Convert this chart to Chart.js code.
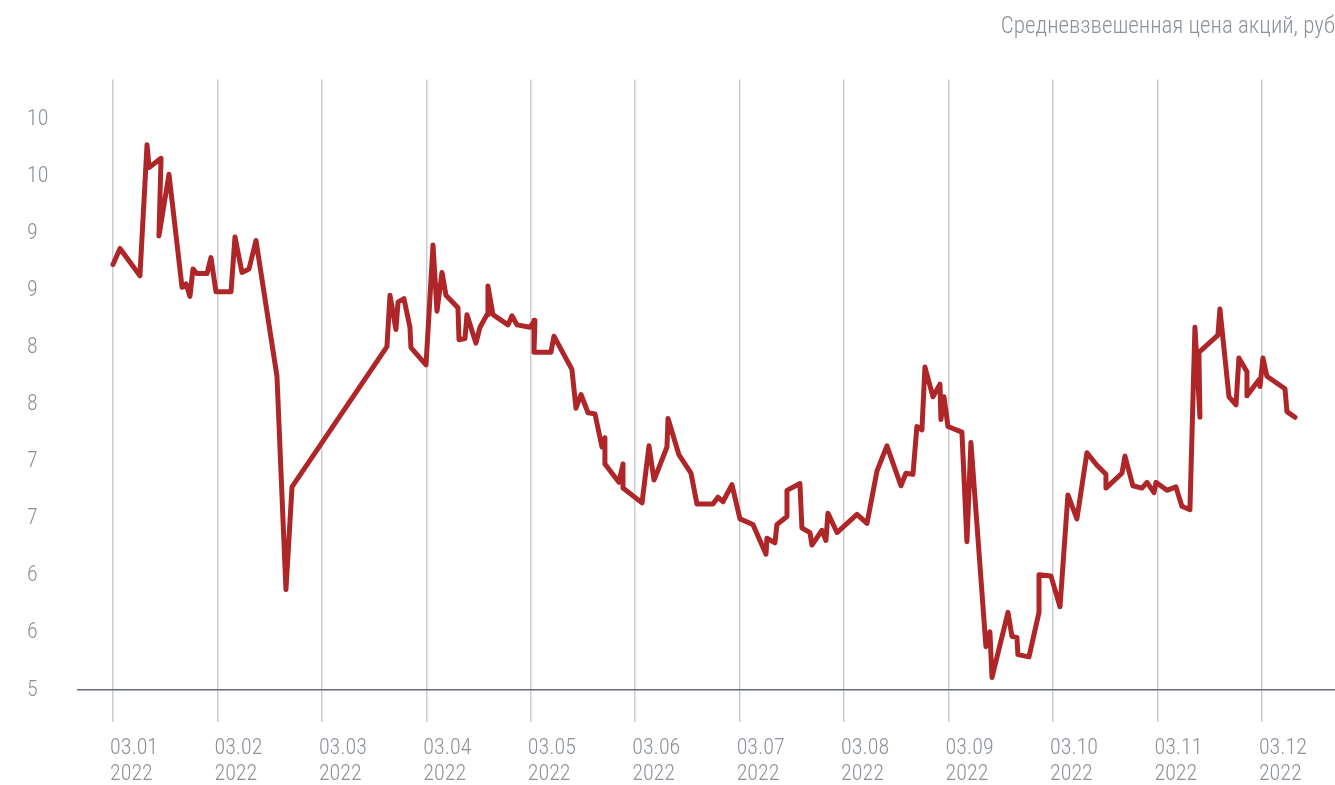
<!DOCTYPE html>
<html>
<head>
<meta charset="utf-8">
<script src="https://cdn.jsdelivr.net/npm/chart.js@4"></script>
<style>
  html, body { margin: 0; padding: 0; background: #ffffff; }
  #wrap { width: 1335px; height: 785px; position: relative; }
</style>
</head>
<body>
<div id="wrap"><canvas id="c"></canvas></div>
<script>
// Title
const chartTitle = 'Средневзвешенная цена акций, руб';

// Month tick positions (months since 03.01.2022) and labels
const monthTicks = [0, 1, 2, 3, 4, 5, 6, 7, 8, 9, 10, 11];
const monthLabels = ['03.01', '03.02', '03.03', '03.04', '03.05', '03.06',
                     '03.07', '03.08', '03.09', '03.10', '03.11', '03.12'];
const yearLabel = '2022';

// Y tick values and their (rounded) labels as printed on the original
const yTicks = [5, 5.5, 6, 6.5, 7, 7.5, 8, 8.5, 9, 9.5, 10];
const yTickLabels = ['5', '6', '6', '7', '7', '8', '8', '9', '9', '10', '10'];

// Series: position in months since 03.01.2022, and weighted average price (rub)
const xMonths = [
  0.000, 0.067, 0.258, 0.326, 0.345, 0.460, 0.440, 0.536, 0.661, 0.699,
  0.737, 0.766, 0.804, 0.900, 0.938, 0.986, 1.130, 1.168, 1.235, 1.302,
  1.369, 1.570, 1.656, 1.714, 2.623, 2.652, 2.709, 2.729, 2.786, 2.843,
  2.853, 2.997, 3.064, 3.102, 3.150, 3.188, 3.303, 3.313, 3.370, 3.389,
  3.475, 3.514, 3.581, 3.590, 3.638, 3.782, 3.820, 3.868, 3.992, 4.040,
  4.031, 4.193, 4.222, 4.394, 4.433, 4.481, 4.548, 4.615, 4.682, 4.710,
  4.710, 4.844, 4.883, 4.883, 5.065, 5.132, 5.180, 5.304, 5.314, 5.419,
  5.534, 5.591, 5.744, 5.792, 5.840, 5.926, 6.003, 6.127, 6.252, 6.261,
  6.338, 6.357, 6.453, 6.453, 6.577, 6.596, 6.673, 6.692, 6.788, 6.826,
  6.845, 6.932, 7.123, 7.219, 7.315, 7.410, 7.544, 7.592, 7.659, 7.697,
  7.745, 7.774, 7.851, 7.918, 7.927, 7.956, 7.994, 8.128, 8.176, 8.214,
  8.358, 8.396, 8.416, 8.569, 8.607, 8.655, 8.664, 8.770, 8.866, 8.866,
  8.980, 9.067, 9.143, 9.229, 9.325, 9.421, 9.507, 9.507, 9.660, 9.689,
  9.765, 9.852, 9.900, 9.967, 9.986, 10.091, 10.177, 10.234, 10.311, 10.359,
  10.407, 10.397, 10.579, 10.598, 10.685, 10.752, 10.780, 10.857, 10.857, 10.972,
  10.982, 11.010, 11.048, 11.221, 11.240, 11.317
];
const prices = [
  8.73, 8.87, 8.63, 9.78, 9.58, 9.66, 8.98, 9.52, 8.53, 8.56,
  8.45, 8.69, 8.65, 8.65, 8.79, 8.49, 8.49, 8.97, 8.66, 8.69,
  8.94, 7.75, 5.88, 6.78, 8.01, 8.46, 8.16, 8.40, 8.43, 8.18,
  8.00, 7.85, 8.90, 8.32, 8.66, 8.46, 8.35, 8.07, 8.08, 8.29,
  8.04, 8.18, 8.29, 8.54, 8.29, 8.20, 8.28, 8.20, 8.18, 8.24,
  7.96, 7.96, 8.10, 7.81, 7.47, 7.59, 7.43, 7.42, 7.13, 7.21,
  6.98, 6.82, 6.98, 6.77, 6.64, 7.14, 6.84, 7.13, 7.38, 7.06,
  6.90, 6.63, 6.63, 6.69, 6.65, 6.80, 6.50, 6.45, 6.19, 6.33,
  6.29, 6.45, 6.52, 6.75, 6.81, 6.42, 6.38, 6.27, 6.40, 6.31,
  6.55, 6.38, 6.54, 6.46, 6.92, 7.14, 6.79, 6.90, 6.89, 7.31,
  7.28, 7.83, 7.57, 7.68, 7.37, 7.57, 7.31, 7.26, 6.30, 7.17,
  5.38, 5.51, 5.11, 5.68, 5.47, 5.46, 5.31, 5.29, 5.68, 6.01,
  6.00, 5.73, 6.71, 6.50, 7.08, 6.97, 6.89, 6.77, 6.90, 7.05,
  6.79, 6.77, 6.82, 6.73, 6.82, 6.75, 6.78, 6.61, 6.58, 8.18,
  7.39, 7.96, 8.11, 8.34, 7.57, 7.50, 7.91, 7.79, 7.58, 7.72,
  7.66, 7.91, 7.75, 7.64, 7.44, 7.39
];

const points = xMonths.map((x, i) => ({ x: x, y: prices[i] }));

const FONT = "'Roboto Condensed', 'Liberation Sans Narrow', 'DejaVu Sans Condensed', Roboto, sans-serif";
const GREY_TEXT = '#8b9299';

new Chart(document.getElementById('c'), {
  type: 'line',
  data: {
    datasets: [{
      data: points,
      borderColor: '#ae2628',
      borderWidth: 5,
      borderJoinStyle: 'round',
      borderCapStyle: 'round',
      pointRadius: 0,
      pointHoverRadius: 0,
      tension: 0,
      fill: false
    }]
  },
  options: {
    responsive: true,
    maintainAspectRatio: false,
    animation: false,
    layout: { padding: { left: 27, right: 0, top: 0, bottom: 0 } },
    plugins: {
      legend: { display: false },
      tooltip: { enabled: false },
      title: {
        display: true,
        text: chartTitle,
        align: 'end',
        color: GREY_TEXT,
        font: { family: FONT, size: 23, weight: '300', lineHeight: 1.2 },
        padding: { top: 13, bottom: 39 }
      }
    },
    scales: {
      x: {
        type: 'linear',
        min: -0.335,
        max: 11.70,
        afterBuildTicks: (axis) => { axis.ticks = monthTicks.map(v => ({ value: v })); },
        afterFit: (axis) => { axis.height = 95; },
        grid: {
          display: true,
          drawOnChartArea: true,
          drawTicks: true,
          tickLength: 32,
          color: '#c9cdd2',
          lineWidth: 1.5
        },
        border: { display: true, color: '#656c74', width: 1.5 },
        ticks: {
          autoSkip: false,
          maxRotation: 0,
          align: 'start',
          labelOffset: -3,
          padding: 14,
          color: GREY_TEXT,
          font: { family: FONT, size: 22, weight: '300', lineHeight: 1.16 },
          callback: (value) => {
            const i = monthTicks.indexOf(value);
            return i >= 0 ? [monthLabels[i], yearLabel] : '';
          }
        }
      },
      y: {
        type: 'linear',
        min: 5,
        max: 10.35,
        afterBuildTicks: (axis) => { axis.ticks = yTicks.map(v => ({ value: v })); },
        afterFit: (axis) => { axis.width = 51; },
        grid: { display: false },
        border: { display: false },
        ticks: {
          crossAlign: 'far',
          padding: 0,
          color: GREY_TEXT,
          font: { family: FONT, size: 22, weight: '300' },
          callback: (value) => {
            const i = yTicks.indexOf(value);
            return i >= 0 ? yTickLabels[i] : '';
          }
        }
      }
    }
  }
});
</script>
</body>
</html>
